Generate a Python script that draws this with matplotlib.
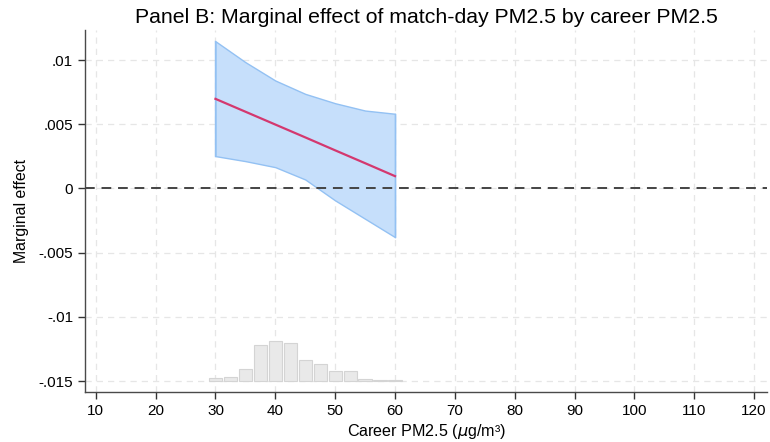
import numpy as np
import matplotlib.pyplot as plt

plt.rcParams['font.family'] = ['Liberation Sans', 'DejaVu Sans']

# marginal effect and 95% CI by career PM2.5
pm_grid = [30, 35, 40, 45, 50, 55, 60]
me = [0.00698, 0.00598, 0.00498, 0.00398, 0.00297, 0.00197, 0.00096]
ci_hi = [0.01147, 0.00984, 0.00841, 0.00737, 0.00664, 0.00607, 0.00582]
ci_lo = [0.00252, 0.00213, 0.00166, 0.00070, -0.00093, -0.00236, -0.00379]

# distribution of career PM2.5 (share of players, %)
hist_centers = [30, 32.5, 35, 37.5, 40, 42.5, 45, 47.5, 50, 52.5, 55, 57.5, 60]
hist_pct = [1.4, 1.9, 6.2, 18.6, 20.6, 19.6, 10.8, 8.8, 5.2, 5.2, 0.9, 0.4, 0.4]

xticks = list(range(10, 121, 10))
yticks = [-0.015, -0.01, -0.005, 0, 0.005, 0.01]
ytick_labels = ['-.015', '-.01', '-.005', '0', '.005', '.01']

fig = plt.figure(figsize=(7.7, 4.42), dpi=100)
ax = fig.add_axes([0.1104, 0.113, 0.886, 0.819])

# histogram along the bottom
base = -0.015
scale = 0.0031 / max(hist_pct)
ax.bar(hist_centers, np.array(hist_pct) * scale, width=2.2, bottom=base,
       color='#e9e9e9', edgecolor='#d4d4d4', linewidth=0.8, zorder=2)

ax.fill_between(pm_grid, ci_lo, ci_hi, color='#c6dffb', edgecolor='#93c1f3',
                linewidth=1.0, zorder=3)
ax.plot([pm_grid[0], pm_grid[0]], [ci_lo[0], ci_hi[0]], color='#93c1f3', lw=1.0, zorder=3)
ax.plot([pm_grid[-1], pm_grid[-1]], [ci_lo[-1], ci_hi[-1]], color='#93c1f3', lw=1.0, zorder=3)
ax.plot(pm_grid, me, color='#d4386f', lw=1.6, zorder=4)
ax.axhline(0, color='#444444', lw=1.4, ls=(0, (5, 3.5)), zorder=5)

ax.set_xlim(8.2, 122.2)
ax.set_ylim(-0.01586, 0.01234)
ax.set_xticks(xticks)
ax.set_yticks(yticks)
ax.set_yticklabels(ytick_labels)
ax.grid(True, color='#e6e6e6', ls=(0, (5, 4)), lw=0.9, zorder=0)
ax.set_axisbelow(True)

for s in ['top', 'right']:
    ax.spines[s].set_visible(False)
for s in ['left', 'bottom']:
    ax.spines[s].set_color('#4a4a4a')
    ax.spines[s].set_linewidth(1.0)
ax.tick_params(colors='#333333', labelcolor='black', labelsize=11, length=5, width=1.0)

ax.set_xlabel('Career PM2.5 ($\\mu$g/m³)', fontsize=11.6, labelpad=3)
ax.set_ylabel('Marginal effect', fontsize=11.4, labelpad=7)
ax.set_title('Panel B: Marginal effect of match-day PM2.5 by career PM2.5', fontsize=15.3, pad=5)

fig.savefig('out.png', dpi=100)
